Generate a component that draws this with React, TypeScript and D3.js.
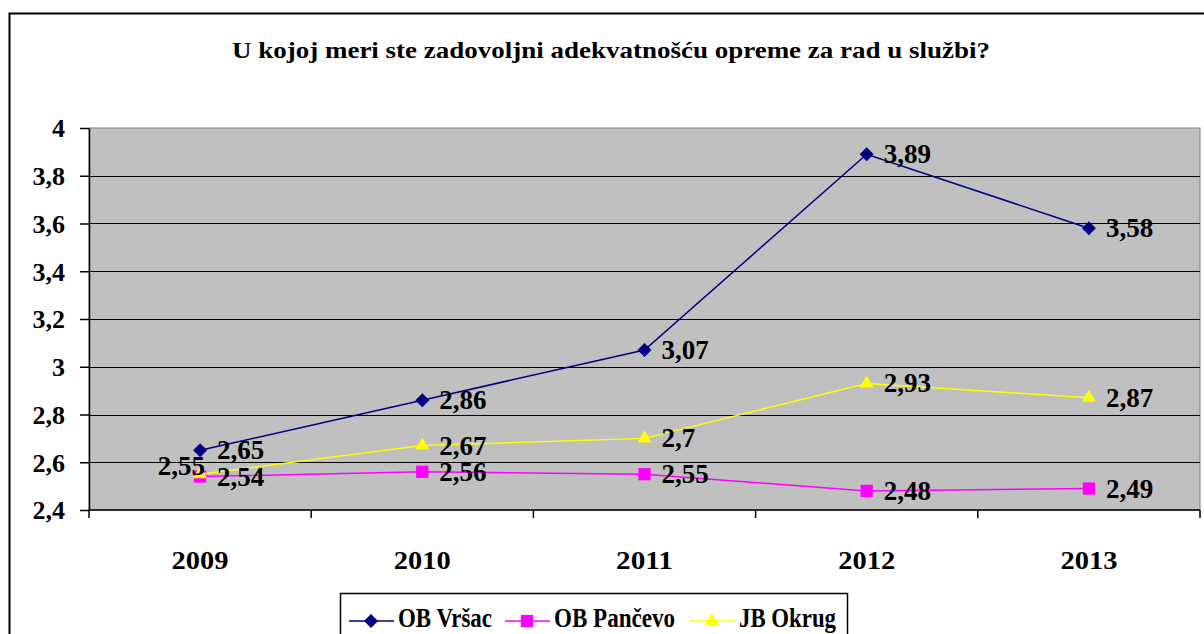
import * as d3 from "d3";
import { useEffect, useRef } from "react";

const years = ["2009", "2010", "2011", "2012", "2013"];
const vrsac = [2.65, 2.86, 3.07, 3.89, 3.58];
const pancevo = [2.54, 2.56, 2.55, 2.48, 2.49];
const okrug = [2.55, 2.67, 2.7, 2.93, 2.87];
const yTicks = [2.4, 2.6, 2.8, 3, 3.2, 3.4, 3.6, 3.8, 4];
const title = "U kojoj meri ste zadovoljni adekvatnošću opreme za rad u službi?";

const seriesList = [
  { name: "OB Vršac", values: vrsac, color: "#000080", kind: "diamond", legendW: 94 },
  { name: "OB Pančevo", values: pancevo, color: "#FF00FF", kind: "square", legendW: 121 },
  { name: "JB Okrug", values: okrug, color: "#FFFF00", kind: "triangle", legendW: 97 },
];

const fmt = (v: number) => String(v).replace(".", ",");

// marker shapes
const markerPath = (kind: string) => {
  if (kind === "triangle") return d3.symbol().type(d3.symbolTriangle).size(85)();
  if (kind === "square") return d3.symbol().type(d3.symbolSquare).size(150)();
  return d3.symbol().type(d3.symbolSquare).size(98)();
};
const markerRot = (kind: string) => (kind === "diamond" ? " rotate(45)" : "");

const App = () => {
  const svgRef = useRef(null);

  useEffect(() => {
    const w = 1204;
    const h = 634;
    const svg = d3.select(svgRef.current);
    svg.selectAll("*").remove();
    svg.attr("width", w).attr("height", h).style("display", "block");

    const font = "'Liberation Serif', 'Times New Roman', serif";
    const left = 89, right = 1200, top = 128, bottom = 510;

    // outer frame
    svg.append("rect")
      .attr("x", 9.5).attr("y", 13.5)
      .attr("width", 1210).attr("height", 640)
      .attr("fill", "#fff").attr("stroke", "#000").attr("stroke-width", 2);

    svg.append("text")
      .attr("x", 232).attr("y", 58)
      .attr("textLength", 758).attr("lengthAdjust", "spacingAndGlyphs")
      .attr("font-family", font).attr("font-weight", "bold").attr("font-size", 24)
      .text(title);

    const x = d3.scaleBand().domain(years).range([left, right]);
    const y = d3.scaleLinear().domain([2.4, 4]).range([bottom, top]);

    // plot area
    svg.append("rect")
      .attr("x", left).attr("y", top)
      .attr("width", right - left).attr("height", bottom - top)
      .attr("fill", "#C0C0C0").attr("stroke", "#808080").attr("stroke-width", 1);

    // gridlines
    svg.append("g").selectAll("line")
      .data(yTicks.filter((t) => t > 2.4 && t < 4))
      .enter().append("line")
      .attr("x1", left).attr("x2", right)
      .attr("y1", (d) => Math.round(y(d)) + 0.5).attr("y2", (d) => Math.round(y(d)) + 0.5)
      .attr("stroke", "#000").attr("stroke-width", 1.2);

    // y axis
    const yAxis = d3.axisLeft(y).tickValues(yTicks).tickSize(9).tickSizeOuter(0)
      .tickFormat((d: any) => fmt(d));
    const gy = svg.append("g").attr("transform", `translate(${left},0)`).call(yAxis);
    gy.selectAll("text")
      .attr("font-family", font).attr("font-weight", "bold").attr("font-size", 26)
      .attr("fill", "#000").attr("x", -24).attr("dy", "0.34em");
    gy.selectAll("line, path").attr("stroke", "#000").attr("stroke-width", 1.5);

    // x axis: ticks at category boundaries
    const xAxis = d3.axisBottom(x).tickSize(0).tickPadding(41);
    const gx = svg.append("g").attr("transform", `translate(0,${bottom})`).call(xAxis);
    gx.select("path").remove();
    gx.selectAll("text")
      .attr("font-family", font).attr("font-weight", "bold").attr("font-size", 25)
      .attr("textLength", 57).attr("lengthAdjust", "spacingAndGlyphs")
      .attr("fill", "#000");
    const bounds = years.map((yr) => x(yr) as number).concat([right]);
    svg.append("g").selectAll("line").data(bounds).enter().append("line")
      .attr("x1", (d) => d).attr("x2", (d) => d)
      .attr("y1", bottom).attr("y2", bottom + 8)
      .attr("stroke", "#000").attr("stroke-width", 1.5);
    svg.append("line")
      .attr("x1", left).attr("x2", right).attr("y1", bottom).attr("y2", bottom)
      .attr("stroke", "#000").attr("stroke-width", 1.5);

    const cx = (i: number) => (x(years[i]) as number) + x.bandwidth() / 2;

    const line = d3.line<number>().x((_, i) => cx(i)).y((d) => y(d));

    seriesList.forEach((s) => {
      svg.append("path").datum(s.values)
        .attr("d", line).attr("fill", "none")
        .attr("stroke", s.color).attr("stroke-width", 1.5);
      svg.append("g").selectAll("path").data(s.values).enter().append("path")
        .attr("d", markerPath(s.kind))
        .attr("transform", (d, i) => `translate(${cx(i)},${y(d)})${markerRot(s.kind)}`)
        .attr("fill", s.color);
    });

    // data labels
    seriesList.forEach((s) => {
      s.values.forEach((v, i) => {
        const moveLeft = s.name === "JB Okrug" && i === 0;
        svg.append("text")
          .attr("x", moveLeft ? cx(i) + 5 : cx(i) + 17)
          .attr("y", moveLeft ? y(v) + 1 : y(v) + 9)
          .attr("text-anchor", moveLeft ? "end" : "start")
          .attr("font-family", font).attr("font-weight", "bold").attr("font-size", 27)
          .attr("fill", "#000")
          .text(fmt(v));
      });
    });

    // legend
    const lg = svg.append("g");
    lg.append("rect")
      .attr("x", 340.5).attr("y", 593.5).attr("width", 507).attr("height", 60)
      .attr("fill", "#fff").attr("stroke", "#000").attr("stroke-width", 1.5);
    const itemX = [349, 505, 690];
    seriesList.forEach((s, i) => {
      const x0 = itemX[i];
      lg.append("line")
        .attr("x1", x0).attr("x2", x0 + 45).attr("y1", 621).attr("y2", 621)
        .attr("stroke", s.color).attr("stroke-width", 1.5);
      lg.append("path")
        .attr("d", markerPath(s.kind))
        .attr("transform", `translate(${x0 + 22},621)${markerRot(s.kind)}`)
        .attr("fill", s.color);
      lg.append("text")
        .attr("x", x0 + 49).attr("y", 627)
        .attr("textLength", s.legendW).attr("lengthAdjust", "spacingAndGlyphs")
        .attr("font-family", font).attr("font-weight", "bold").attr("font-size", 27)
        .attr("fill", "#000")
        .text(s.name);
    });
  }, []);

  return (
    <div style={{ position: "absolute", left: 0, top: 0 }}>
      <svg ref={svgRef}></svg>
    </div>
  );
};

export default App;
